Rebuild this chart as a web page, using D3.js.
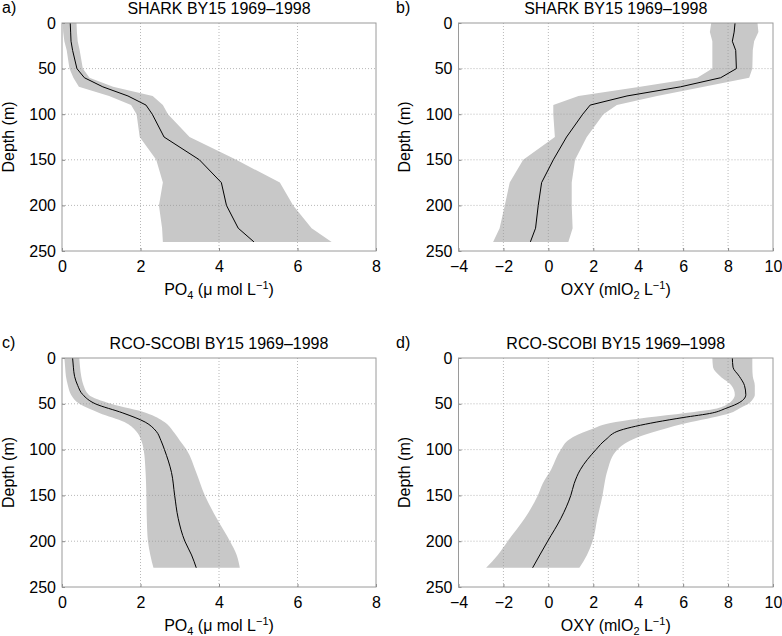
<!DOCTYPE html>
<html><head><meta charset="utf-8">
<script src="https://cdn.jsdelivr.net/npm/d3@7"></script>
<style>
body{margin:0;background:#fff;}
text{font-family:"Liberation Sans",Arial,Helvetica,sans-serif;fill:#000;}
</style></head>
<body>
<svg id="c" width="782" height="636"></svg>
<script>
// ---------- DATA ----------
const depthTicks = [0, 50, 100, 150, 200, 250];
const po4Ticks = [0, 2, 4, 6, 8];
const oxyTicks = [-4, -2, 0, 2, 4, 6, 8, 10];

// a) SHARK PO4
const aDepth = [0, 10, 20, 30, 50, 60, 70, 80, 90, 100, 125, 150, 175, 200, 225, 240];
const aMean  = [0.21, 0.22, 0.23, 0.27, 0.38, 0.57, 1.04, 1.68, 2.14, 2.30, 2.60, 3.50, 4.06, 4.19, 4.49, 4.89];
const aLo    = [0.02, 0.03, 0.06, 0.12, 0.19, 0.29, 0.43, 1.20, 1.76, 1.90, 1.98, 2.40, 2.57, 2.47, 2.55, 2.57];
const aHi    = [0.37, 0.38, 0.40, 0.45, 0.53, 0.70, 1.30, 2.31, 2.57, 2.70, 3.25, 4.44, 5.55, 5.89, 6.36, 6.87];

// b) SHARK OXY
const bDepth = [0, 10, 20, 30, 50, 60, 70, 80, 90, 100, 125, 150, 175, 200, 225, 240];
const bMean  = [8.31, 8.27, 8.19, 8.34, 8.37, 7.67, 5.88, 3.50, 1.86, 1.53, 0.81, 0.22, -0.30, -0.45, -0.57, -0.80];
const bLo    = [7.25, 7.19, 7.30, 7.30, 7.30, 6.63, 4.09, 1.34, 0.22, 0.22, 0.29, -1.12, -1.72, -1.94, -2.17, -2.46];
const bHi    = [9.31, 9.35, 9.16, 9.10, 9.08, 8.94, 6.92, 4.84, 3.05, 2.45, 1.71, 1.19, 1.04, 1.04, 1.08, 0.89];

// c) RCO-SCOBI PO4
const cDepth = [0, 10, 20, 30, 40, 50, 60, 70, 80, 90, 100, 125, 150, 175, 200, 215, 229];
const cMean  = [0.27, 0.29, 0.32, 0.40, 0.53, 0.85, 1.55, 2.12, 2.40, 2.52, 2.61, 2.79, 2.87, 2.96, 3.13, 3.30, 3.42];
const cLo    = [0.06, 0.08, 0.10, 0.15, 0.23, 0.44, 0.95, 1.59, 1.89, 2.02, 2.08, 2.13, 2.15, 2.16, 2.19, 2.25, 2.33];
const cHi    = [0.44, 0.46, 0.49, 0.55, 0.68, 1.25, 2.15, 2.61, 2.83, 3.00, 3.17, 3.42, 3.64, 3.94, 4.28, 4.45, 4.53];

// d) RCO-SCOBI OXY
const dDepth = [0, 10, 20, 30, 40, 45, 50, 55, 60, 65, 70, 79, 89, 100, 122, 137, 150, 175, 200, 215, 229];
const dMean  = [8.19, 8.22, 8.50, 8.73, 8.79, 8.70, 8.40, 7.90, 7.30, 6.00, 4.80, 3.19, 2.56, 2.12, 1.42, 1.15, 1.00, 0.56, -0.03, -0.38, -0.70];
const dLo    = [7.30, 7.33, 7.65, 8.15, 8.30, 8.22, 8.00, 7.50, 6.10, 4.40, 3.00, 1.80, 0.93, 0.56, 0.12, -0.25, -0.47, -1.05, -1.81, -2.25, -2.77];
const dHi    = [9.08, 9.08, 9.10, 9.19, 9.19, 9.10, 8.90, 8.50, 8.10, 7.30, 6.35, 4.95, 3.75, 3.08, 2.64, 2.50, 2.41, 2.18, 1.97, 1.72, 1.38];

const titles = ["SHARK BY15 1969\u20131998", "SHARK BY15 1969\u20131998",
                "RCO-SCOBI BY15 1969\u20131998", "RCO-SCOBI BY15 1969\u20131998"];
const letters = ["a)", "b)", "c)", "d)"];

// ---------- LAYOUT ----------
const svg = d3.select("#c");
const panels = [
  {L:62,  R:376, T:23,  B:251, xd:[0,8],   xt:po4Ticks, dep:aDepth, mean:aMean, lo:aLo, hi:aHi, kind:"po4", smooth:false, lx:2,   dlx:14},
  {L:458.5,R:773, T:23,  B:251, xd:[-4,10], xt:oxyTicks, dep:bDepth, mean:bMean, lo:bLo, hi:bHi, kind:"oxy", smooth:false, lx:396, dlx:410},
  {L:62,  R:376, T:358, B:587, xd:[0,8],   xt:po4Ticks, dep:cDepth, mean:cMean, lo:cLo, hi:cHi, kind:"po4", smooth:true,  lx:2,   dlx:14},
  {L:458.5,R:773, T:358, B:587, xd:[-4,10], xt:oxyTicks, dep:dDepth, mean:dMean, lo:dLo, hi:dHi, kind:"oxy", smooth:true,  lx:396, dlx:410}
];

panels.forEach((p, i) => {
  const x = d3.scaleLinear().domain(p.xd).range([p.L, p.R]);
  const y = d3.scaleLinear().domain([0, 250]).range([p.T, p.B]);
  const g = svg.append("g");
  const rows = p.dep.map((d, k) => ({depth: d, mean: p.mean[k], lo: p.lo[k], hi: p.hi[k]}));
  const curve = p.smooth ? d3.curveMonotoneY : d3.curveLinear;

  // band
  g.append("path").datum(rows)
    .attr("fill", "#c8c8c8")
    .attr("d", d3.area().y(d => y(d.depth)).x0(d => x(d.lo)).x1(d => x(d.hi)).curve(curve));

  // grid (on top, MATLAB style)
  const grid = g.append("g").attr("stroke", "#9a9a9a").attr("stroke-width", 0.7)
    .attr("stroke-dasharray", "1,2").attr("fill", "none");
  p.xt.slice(1, -1).forEach(v => grid.append("line")
    .attr("x1", x(v)).attr("x2", x(v)).attr("y1", p.T).attr("y2", p.B));
  depthTicks.slice(1, -1).forEach(v => grid.append("line")
    .attr("x1", p.L).attr("x2", p.R).attr("y1", y(v)).attr("y2", y(v)));

  // mean line
  g.append("path").datum(rows)
    .attr("fill", "none").attr("stroke", "#000").attr("stroke-width", 1)
    .attr("d", d3.line().y(d => y(d.depth)).x(d => x(d.mean)).curve(curve));

  // axes
  const xa = g.append("g").attr("transform", `translate(0,${p.B})`)
    .call(d3.axisBottom(x).tickValues(p.xt).tickFormat(d => d < 0 ? "\u2212" + Math.abs(d) : d)
      .tickSizeInner(-3).tickSizeOuter(0).tickPadding(6));
  const ya = g.append("g").attr("transform", `translate(${p.L},0)`)
    .call(d3.axisLeft(y).tickValues(depthTicks).tickSizeInner(-3).tickSizeOuter(0).tickPadding(6));
  [xa, ya].forEach(a => {
    a.select(".domain").remove();
    a.selectAll(".tick line").attr("stroke", "#888");
    a.selectAll(".tick text").style("font-size", "16px").style("font-family", '"Liberation Sans",Arial,sans-serif');
  });
  xa.selectAll(".tick text").attr("dy", "0.95em");

  // frame
  g.append("rect").attr("x", p.L).attr("y", p.T).attr("width", p.R - p.L).attr("height", p.B - p.T)
    .attr("fill", "none").attr("stroke", "#9a9a9a").attr("stroke-width", 1);

  // title & letter
  g.append("text").attr("x", (p.L + p.R) / 2).attr("y", p.T - 9.5).attr("text-anchor", "middle")
    .style("font-size", "16px").text(titles[i]);
  g.append("text").attr("x", p.lx).attr("y", p.T - 10).style("font-size", "16px").text(letters[i]);

  // y label
  g.append("text").attr("transform", `translate(${p.dlx},${(p.T + p.B) / 2}) rotate(-90)`)
    .attr("text-anchor", "middle").style("font-size", "16px").text("Depth (m)");

  // x label
  const xl = g.append("text").attr("x", (p.L + p.R) / 2).attr("y", p.B + 43.5)
    .attr("text-anchor", "middle").style("font-size", "16px");
  if (p.kind === "po4") {
    xl.append("tspan").text("PO");
    xl.append("tspan").attr("dy", "4").style("font-size", "11px").text("4");
    xl.append("tspan").attr("dy", "-4").text(" (\u03bc mol L");
    xl.append("tspan").attr("dy", "-6").style("font-size", "11px").text("\u22121");
    xl.append("tspan").attr("dy", "6").text(")");
  } else {
    xl.append("tspan").text("OXY (mlO");
    xl.append("tspan").attr("dy", "4").style("font-size", "11px").text("2");
    xl.append("tspan").attr("dy", "-4").text(" L");
    xl.append("tspan").attr("dy", "-6").style("font-size", "11px").text("\u22121");
    xl.append("tspan").attr("dy", "6").text(")");
  }
});
</script>
</body></html>
